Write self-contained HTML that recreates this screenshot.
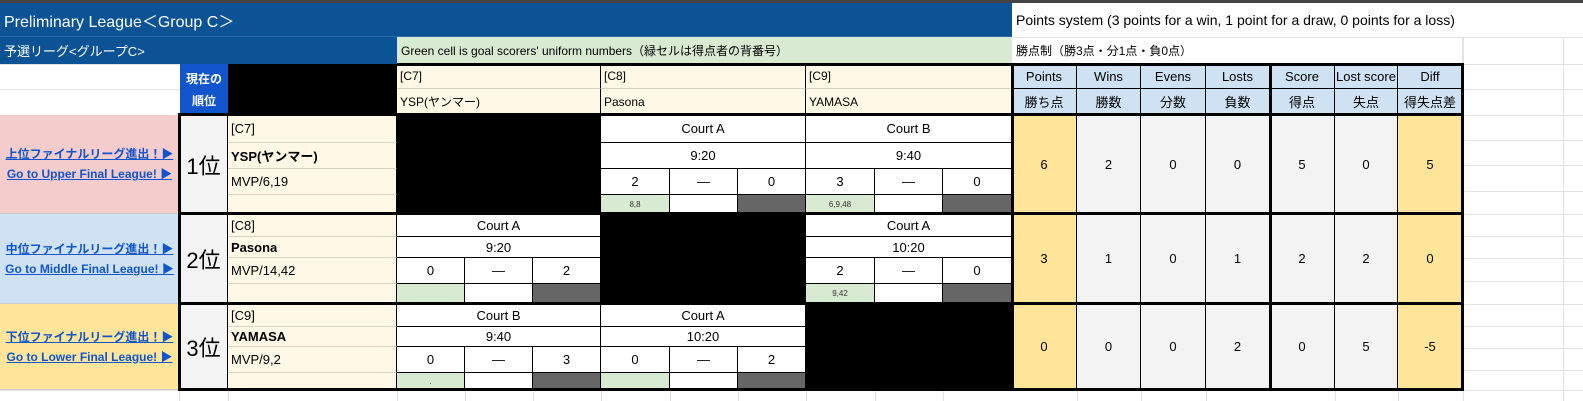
<!DOCTYPE html>
<html><head><meta charset="utf-8"><style>
body{margin:0;width:1583px;height:401px;overflow:hidden;background:#fff;font-family:"Liberation Sans","Noto Sans CJK JP",sans-serif;position:relative}
div{position:absolute;box-sizing:border-box}
.c{display:flex;align-items:center;justify-content:center;font-size:13px;color:#000;border-right:1px solid #000;border-bottom:1px solid #000;background:#fff;white-space:nowrap;overflow:hidden}
.l{justify-content:flex-start;padding-left:3px}
.g{background:#d9ead3;font-size:8px;color:#333}
.d{background:#666}
.k{background:#000}
.cr{background:#fff8e7;border-bottom:1px solid #d8d2c0;border-right:1px solid #000}
.st{background:#f3f3f3}
.y{background:#ffe599}
.h{background:#cfe2f3}
.gl{background:#e2e2e2}
.lab{display:flex;flex-direction:column;justify-content:center;align-items:center;font-size:12px;font-weight:bold;color:#1155cc;text-decoration:underline;line-height:20px;border-bottom:1px solid #ccc}
.rk{display:flex;align-items:center;justify-content:center;font-size:22px;background:#f3f3f3;border-right:1px solid #000}
.T{background:#000}
</style></head><body>
<!-- top bar -->
<div style="left:0;top:0;width:1583px;height:3px;background:#444"></div>
<!-- gridlines background -->
<div class="gl" style="left:0;top:37px;width:1583px;height:1px"></div>
<div class="gl" style="left:0;top:64px;width:1583px;height:1px"></div>
<div class="gl" style="left:0;top:89px;width:1583px;height:1px"></div>
<div class="gl" style="left:0;top:115px;width:1583px;height:1px"></div>
<div class="gl" style="left:1463px;top:140px;width:120px;height:1px"></div>
<div class="gl" style="left:1463px;top:165px;width:120px;height:1px"></div>
<div class="gl" style="left:1463px;top:191px;width:120px;height:1px"></div>
<div class="gl" style="left:1463px;top:214px;width:120px;height:1px"></div>
<div class="gl" style="left:1463px;top:236px;width:120px;height:1px"></div>
<div class="gl" style="left:1463px;top:258px;width:120px;height:1px"></div>
<div class="gl" style="left:1463px;top:281px;width:120px;height:1px"></div>
<div class="gl" style="left:1463px;top:304px;width:120px;height:1px"></div>
<div class="gl" style="left:1463px;top:326px;width:120px;height:1px"></div>
<div class="gl" style="left:1463px;top:348px;width:120px;height:1px"></div>
<div class="gl" style="left:1463px;top:370px;width:120px;height:1px"></div>
<div class="gl" style="left:0;top:390px;width:1583px;height:1px"></div>
<div class="gl" style="left:1563px;top:37px;width:1px;height:364px"></div>
<div class="gl" style="left:1463px;top:37px;width:1px;height:364px"></div>
<div class="gl" style="left:179px;top:390px;width:1px;height:11px"></div>
<div class="gl" style="left:228px;top:390px;width:1px;height:11px"></div>
<div class="gl" style="left:397px;top:390px;width:1px;height:11px"></div>
<div class="gl" style="left:465px;top:390px;width:1px;height:11px"></div>
<div class="gl" style="left:533px;top:390px;width:1px;height:11px"></div>
<div class="gl" style="left:601px;top:390px;width:1px;height:11px"></div>
<div class="gl" style="left:670px;top:390px;width:1px;height:11px"></div>
<div class="gl" style="left:738px;top:390px;width:1px;height:11px"></div>
<div class="gl" style="left:806px;top:390px;width:1px;height:11px"></div>
<div class="gl" style="left:875px;top:390px;width:1px;height:11px"></div>
<div class="gl" style="left:943px;top:390px;width:1px;height:11px"></div>
<div class="gl" style="left:1077px;top:390px;width:1px;height:11px"></div>
<div class="gl" style="left:1141px;top:390px;width:1px;height:11px"></div>
<div class="gl" style="left:1206px;top:390px;width:1px;height:11px"></div>
<div class="gl" style="left:1335px;top:390px;width:1px;height:11px"></div>
<div class="gl" style="left:1398px;top:390px;width:1px;height:11px"></div>

<!-- header rows -->
<div style="left:0;top:3px;width:1012px;height:34px;background:#0b5394;color:#fff;font-size:16px;padding-left:4px;display:flex;align-items:center;border-bottom:1px solid #2a6aa8">Preliminary League＜Group C＞</div>
<div style="left:1012px;top:3px;width:571px;height:34px;font-size:14px;padding-left:4px;display:flex;align-items:center">Points system (3 points for a win, 1 point for a draw, 0 points for a loss)</div>
<div style="left:0;top:37px;width:397px;height:27px;background:#0b5394;color:#fff;font-size:13px;padding-left:4px;display:flex;align-items:center">予選リーグ&lt;グループC&gt;</div>
<div style="left:397px;top:37px;width:615px;height:27px;background:#d9ead3;font-size:12px;padding-left:4px;display:flex;align-items:center">Green cell is goal scorers' uniform numbers（緑セルは得点者の背番号）</div>
<div style="left:1012px;top:37px;width:451px;height:27px;font-size:12px;padding-left:4px;display:flex;align-items:center;border-right:1px solid #e2e2e2">勝点制（勝3点・分1点・負0点）</div>

<!-- rank header and black -->
<div style="left:180px;top:64px;width:48px;height:51px;background:#1155cc;color:#fff;font-weight:bold;font-size:12px;display:flex;align-items:center;justify-content:center;text-align:center;line-height:22px">現在の<br>順位</div>
<div class="k" style="left:228px;top:64px;width:169px;height:51px"></div>
<div class="c cr l" style="left:397px;top:64px;width:204px;height:25px;font-size:12px">[C7]</div>
<div class="c cr l" style="left:601px;top:64px;width:205px;height:25px;font-size:12px">[C8]</div>
<div class="c cr l" style="left:806px;top:64px;width:206px;height:25px;font-size:12px">[C9]</div>
<div class="c cr l" style="left:397px;top:89px;width:204px;height:26px;font-size:12px">YSP(ヤンマー)</div>
<div class="c cr l" style="left:601px;top:89px;width:205px;height:26px;font-size:12px">Pasona</div>
<div class="c cr l" style="left:806px;top:89px;width:206px;height:26px;font-size:12px">YAMASA</div>
<div class="c h" style="left:1012px;top:64px;width:65px;height:25px">Points</div>
<div class="c h" style="left:1077px;top:64px;width:64px;height:25px">Wins</div>
<div class="c h" style="left:1141px;top:64px;width:65px;height:25px">Evens</div>
<div class="c h" style="left:1206px;top:64px;width:64px;height:25px">Losts</div>
<div class="c h" style="left:1270px;top:64px;width:65px;height:25px">Score</div>
<div class="c h" style="left:1335px;top:64px;width:63px;height:25px">Lost score</div>
<div class="c h" style="left:1398px;top:64px;width:65px;height:25px">Diff</div>
<div class="c h" style="left:1012px;top:89px;width:65px;height:26px">勝ち点</div>
<div class="c h" style="left:1077px;top:89px;width:64px;height:26px">勝数</div>
<div class="c h" style="left:1141px;top:89px;width:65px;height:26px">分数</div>
<div class="c h" style="left:1206px;top:89px;width:64px;height:26px">負数</div>
<div class="c h" style="left:1270px;top:89px;width:65px;height:26px">得点</div>
<div class="c h" style="left:1335px;top:89px;width:63px;height:26px">失点</div>
<div class="c h" style="left:1398px;top:89px;width:65px;height:26px">得失点差</div>

<!-- labels -->
<div class="lab" style="left:0;top:115px;width:179px;height:99px;background:#f4cccc"><span>上位ファイナルリーグ進出！▶</span><span>Go to Upper Final League! ▶</span></div>
<div class="lab" style="left:0;top:214px;width:179px;height:90px;background:#cfe2f3"><span>中位ファイナルリーグ進出！▶</span><span>Go to Middle Final League! ▶</span></div>
<div class="lab" style="left:0;top:304px;width:179px;height:86px;background:#ffe599"><span>下位ファイナルリーグ進出！▶</span><span>Go to Lower Final League! ▶</span></div>

<!-- ranks -->
<div class="rk" style="left:180px;top:115px;width:48px;height:99px">1位</div>
<div class="rk" style="left:180px;top:214px;width:48px;height:90px">2位</div>
<div class="rk" style="left:180px;top:304px;width:48px;height:86px">3位</div>

<!-- info T1 -->
<div class="c cr l" style="left:228px;top:115px;width:169px;height:28px">[C7]</div>
<div class="c cr l" style="left:228px;top:143px;width:169px;height:26px;font-weight:bold">YSP(ヤンマー)</div>
<div class="c cr l" style="left:228px;top:169px;width:169px;height:26px">MVP/6,19</div>
<div class="c cr l" style="left:228px;top:195px;width:169px;height:19px"></div>
<!-- info T2 -->
<div class="c cr l" style="left:228px;top:214px;width:169px;height:23px">[C8]</div>
<div class="c cr l" style="left:228px;top:237px;width:169px;height:21px;font-weight:bold">Pasona</div>
<div class="c cr l" style="left:228px;top:258px;width:169px;height:26px">MVP/14,42</div>
<div class="c cr l" style="left:228px;top:284px;width:169px;height:20px"></div>
<!-- info T3 -->
<div class="c cr l" style="left:228px;top:304px;width:169px;height:23px">[C9]</div>
<div class="c cr l" style="left:228px;top:327px;width:169px;height:20px;font-weight:bold">YAMASA</div>
<div class="c cr l" style="left:228px;top:347px;width:169px;height:26px">MVP/9,2</div>
<div class="c cr l" style="left:228px;top:373px;width:169px;height:17px"></div>

<!-- black diagonals -->
<div class="k" style="left:397px;top:115px;width:204px;height:99px"></div>
<div class="k" style="left:601px;top:214px;width:205px;height:90px"></div>
<div class="k" style="left:806px;top:304px;width:206px;height:86px"></div>

<!-- T1 vs C8 -->
<div class="c" style="left:601px;top:115px;width:205px;height:28px">Court A</div>
<div class="c" style="left:601px;top:143px;width:205px;height:26px">9:20</div>
<div class="c" style="left:601px;top:169px;width:69px;height:26px">2</div>
<div class="c" style="left:670px;top:169px;width:68px;height:26px">―</div>
<div class="c" style="left:738px;top:169px;width:68px;height:26px">0</div>
<div class="c g" style="left:601px;top:195px;width:69px;height:19px">8,8</div>
<div class="c" style="left:670px;top:195px;width:68px;height:19px"></div>
<div class="c d" style="left:738px;top:195px;width:68px;height:19px"></div>
<!-- T1 vs C9 -->
<div class="c" style="left:806px;top:115px;width:206px;height:28px">Court B</div>
<div class="c" style="left:806px;top:143px;width:206px;height:26px">9:40</div>
<div class="c" style="left:806px;top:169px;width:69px;height:26px">3</div>
<div class="c" style="left:875px;top:169px;width:68px;height:26px">―</div>
<div class="c" style="left:943px;top:169px;width:69px;height:26px">0</div>
<div class="c g" style="left:806px;top:195px;width:69px;height:19px">6,9,48</div>
<div class="c" style="left:875px;top:195px;width:68px;height:19px"></div>
<div class="c d" style="left:943px;top:195px;width:69px;height:19px"></div>
<!-- T2 vs C7 -->
<div class="c" style="left:397px;top:214px;width:204px;height:23px">Court A</div>
<div class="c" style="left:397px;top:237px;width:204px;height:21px">9:20</div>
<div class="c" style="left:397px;top:258px;width:68px;height:26px">0</div>
<div class="c" style="left:465px;top:258px;width:68px;height:26px">―</div>
<div class="c" style="left:533px;top:258px;width:68px;height:26px">2</div>
<div class="c g" style="left:397px;top:284px;width:68px;height:20px"></div>
<div class="c" style="left:465px;top:284px;width:68px;height:20px"></div>
<div class="c d" style="left:533px;top:284px;width:68px;height:20px"></div>
<!-- T2 vs C9 -->
<div class="c" style="left:806px;top:214px;width:206px;height:23px">Court A</div>
<div class="c" style="left:806px;top:237px;width:206px;height:21px">10:20</div>
<div class="c" style="left:806px;top:258px;width:69px;height:26px">2</div>
<div class="c" style="left:875px;top:258px;width:68px;height:26px">―</div>
<div class="c" style="left:943px;top:258px;width:69px;height:26px">0</div>
<div class="c g" style="left:806px;top:284px;width:69px;height:20px">9,42</div>
<div class="c" style="left:875px;top:284px;width:68px;height:20px"></div>
<div class="c d" style="left:943px;top:284px;width:69px;height:20px"></div>
<!-- T3 vs C7 -->
<div class="c" style="left:397px;top:304px;width:204px;height:23px">Court B</div>
<div class="c" style="left:397px;top:327px;width:204px;height:20px">9:40</div>
<div class="c" style="left:397px;top:347px;width:68px;height:26px">0</div>
<div class="c" style="left:465px;top:347px;width:68px;height:26px">―</div>
<div class="c" style="left:533px;top:347px;width:68px;height:26px">3</div>
<div class="c g" style="left:397px;top:373px;width:68px;height:17px">.</div>
<div class="c" style="left:465px;top:373px;width:68px;height:17px"></div>
<div class="c d" style="left:533px;top:373px;width:68px;height:17px"></div>
<!-- T3 vs C8 -->
<div class="c" style="left:601px;top:304px;width:205px;height:23px">Court A</div>
<div class="c" style="left:601px;top:327px;width:205px;height:20px">10:20</div>
<div class="c" style="left:601px;top:347px;width:69px;height:26px">0</div>
<div class="c" style="left:670px;top:347px;width:68px;height:26px">―</div>
<div class="c" style="left:738px;top:347px;width:68px;height:26px">2</div>
<div class="c g" style="left:601px;top:373px;width:69px;height:17px"></div>
<div class="c" style="left:670px;top:373px;width:68px;height:17px"></div>
<div class="c d" style="left:738px;top:373px;width:68px;height:17px"></div>

<!-- stats -->
<div class="c y" style="left:1012px;top:115px;width:65px;height:99px">6</div>
<div class="c st" style="left:1077px;top:115px;width:64px;height:99px">2</div>
<div class="c st" style="left:1141px;top:115px;width:65px;height:99px">0</div>
<div class="c st" style="left:1206px;top:115px;width:64px;height:99px">0</div>
<div class="c st" style="left:1270px;top:115px;width:65px;height:99px">5</div>
<div class="c st" style="left:1335px;top:115px;width:63px;height:99px">0</div>
<div class="c y" style="left:1398px;top:115px;width:65px;height:99px">5</div>
<div class="c y" style="left:1012px;top:214px;width:65px;height:90px">3</div>
<div class="c st" style="left:1077px;top:214px;width:64px;height:90px">1</div>
<div class="c st" style="left:1141px;top:214px;width:65px;height:90px">0</div>
<div class="c st" style="left:1206px;top:214px;width:64px;height:90px">1</div>
<div class="c st" style="left:1270px;top:214px;width:65px;height:90px">2</div>
<div class="c st" style="left:1335px;top:214px;width:63px;height:90px">2</div>
<div class="c y" style="left:1398px;top:214px;width:65px;height:90px">0</div>
<div class="c y" style="left:1012px;top:304px;width:65px;height:86px">0</div>
<div class="c st" style="left:1077px;top:304px;width:64px;height:86px">0</div>
<div class="c st" style="left:1141px;top:304px;width:65px;height:86px">0</div>
<div class="c st" style="left:1206px;top:304px;width:64px;height:86px">2</div>
<div class="c st" style="left:1270px;top:304px;width:65px;height:86px">0</div>
<div class="c st" style="left:1335px;top:304px;width:63px;height:86px">5</div>
<div class="c y" style="left:1398px;top:304px;width:65px;height:86px">-5</div>

<!-- thick lines -->
<div class="T" style="left:397px;top:63px;width:1066px;height:3px"></div>
<div class="T" style="left:178px;top:113px;width:1285px;height:3px"></div>
<div class="T" style="left:178px;top:212px;width:1285px;height:3px"></div>
<div class="T" style="left:178px;top:302px;width:1285px;height:3px"></div>
<div class="T" style="left:178px;top:388px;width:1285px;height:3px"></div>
<div class="T" style="left:178px;top:113px;width:3px;height:278px"></div>
<div class="T" style="left:1011px;top:63px;width:3px;height:328px"></div>
<div class="T" style="left:1269px;top:63px;width:3px;height:328px"></div>
<div class="T" style="left:1461px;top:63px;width:3px;height:328px"></div>
</body></html>
